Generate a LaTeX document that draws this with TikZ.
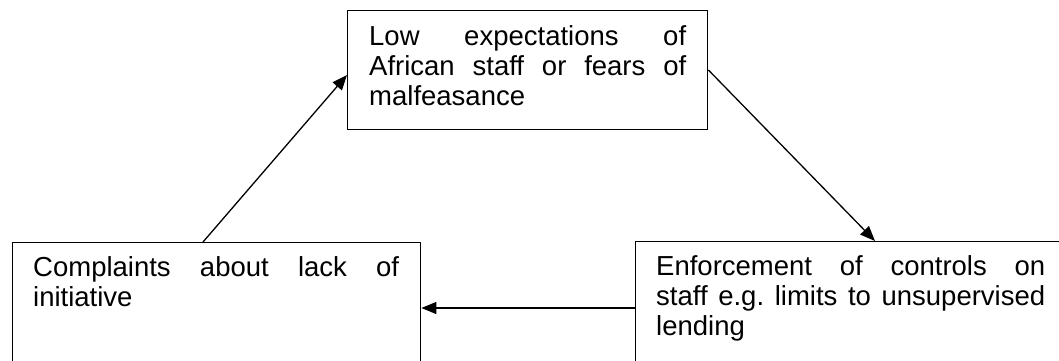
\documentclass[tikz,border=0pt]{standalone}
\usepackage{fontspec}
\setmainfont{Liberation Sans}
\usetikzlibrary{arrows.meta}
\newcommand{\firstline}{\vrule width 0pt height 21pt\relax}
\begin{document}
\begin{tikzpicture}[x=1pt,y=-1pt,
  box/.style={draw, line width=1.4pt, rectangle, inner sep=0pt, anchor=north west},
  txt/.style={inner sep=0pt, anchor=north west, align=justify,
    font=\fontsize{27.5pt}{30pt}\selectfont\frenchspacing},
  arr/.style={line width=1.3pt, -{Triangle[length=15pt,width=12pt]}}]
\useasboundingbox (0,0) rectangle (1059,360);
% boxes
\node[box, minimum width=360pt, minimum height=119pt] (top) at (347,10) {};
\node[box, minimum width=408pt, minimum height=130pt] (left) at (12,242) {};
\node[box, minimum width=430pt, minimum height=130pt] (right) at (635,241) {};
% texts
\node[txt, text width=317pt] (toptext) at (369,24)
  {\firstline Low expectations of\linebreak African staff or fears of\linebreak malfeasance};
\node[txt, text width=366pt] (lefttext) at (33,255)
  {\firstline Complaints about lack of\linebreak initiative};
\node[txt, text width=389pt] (righttext) at (656,254)
  {\firstline Enforcement of controls on\linebreak staff e.g. limits to unsupervised\linebreak lending};
% connectors
\draw[arr] ([xshift=191pt]left.north west) -- ([yshift=-65pt]top.north west);
\draw[arr] ([yshift=-60pt]top.north east) -- ([xshift=240pt]right.north west);
\draw[arr] ([yshift=-67pt]right.north west) -- ([yshift=-66pt]left.north east);
\end{tikzpicture}
\end{document}
